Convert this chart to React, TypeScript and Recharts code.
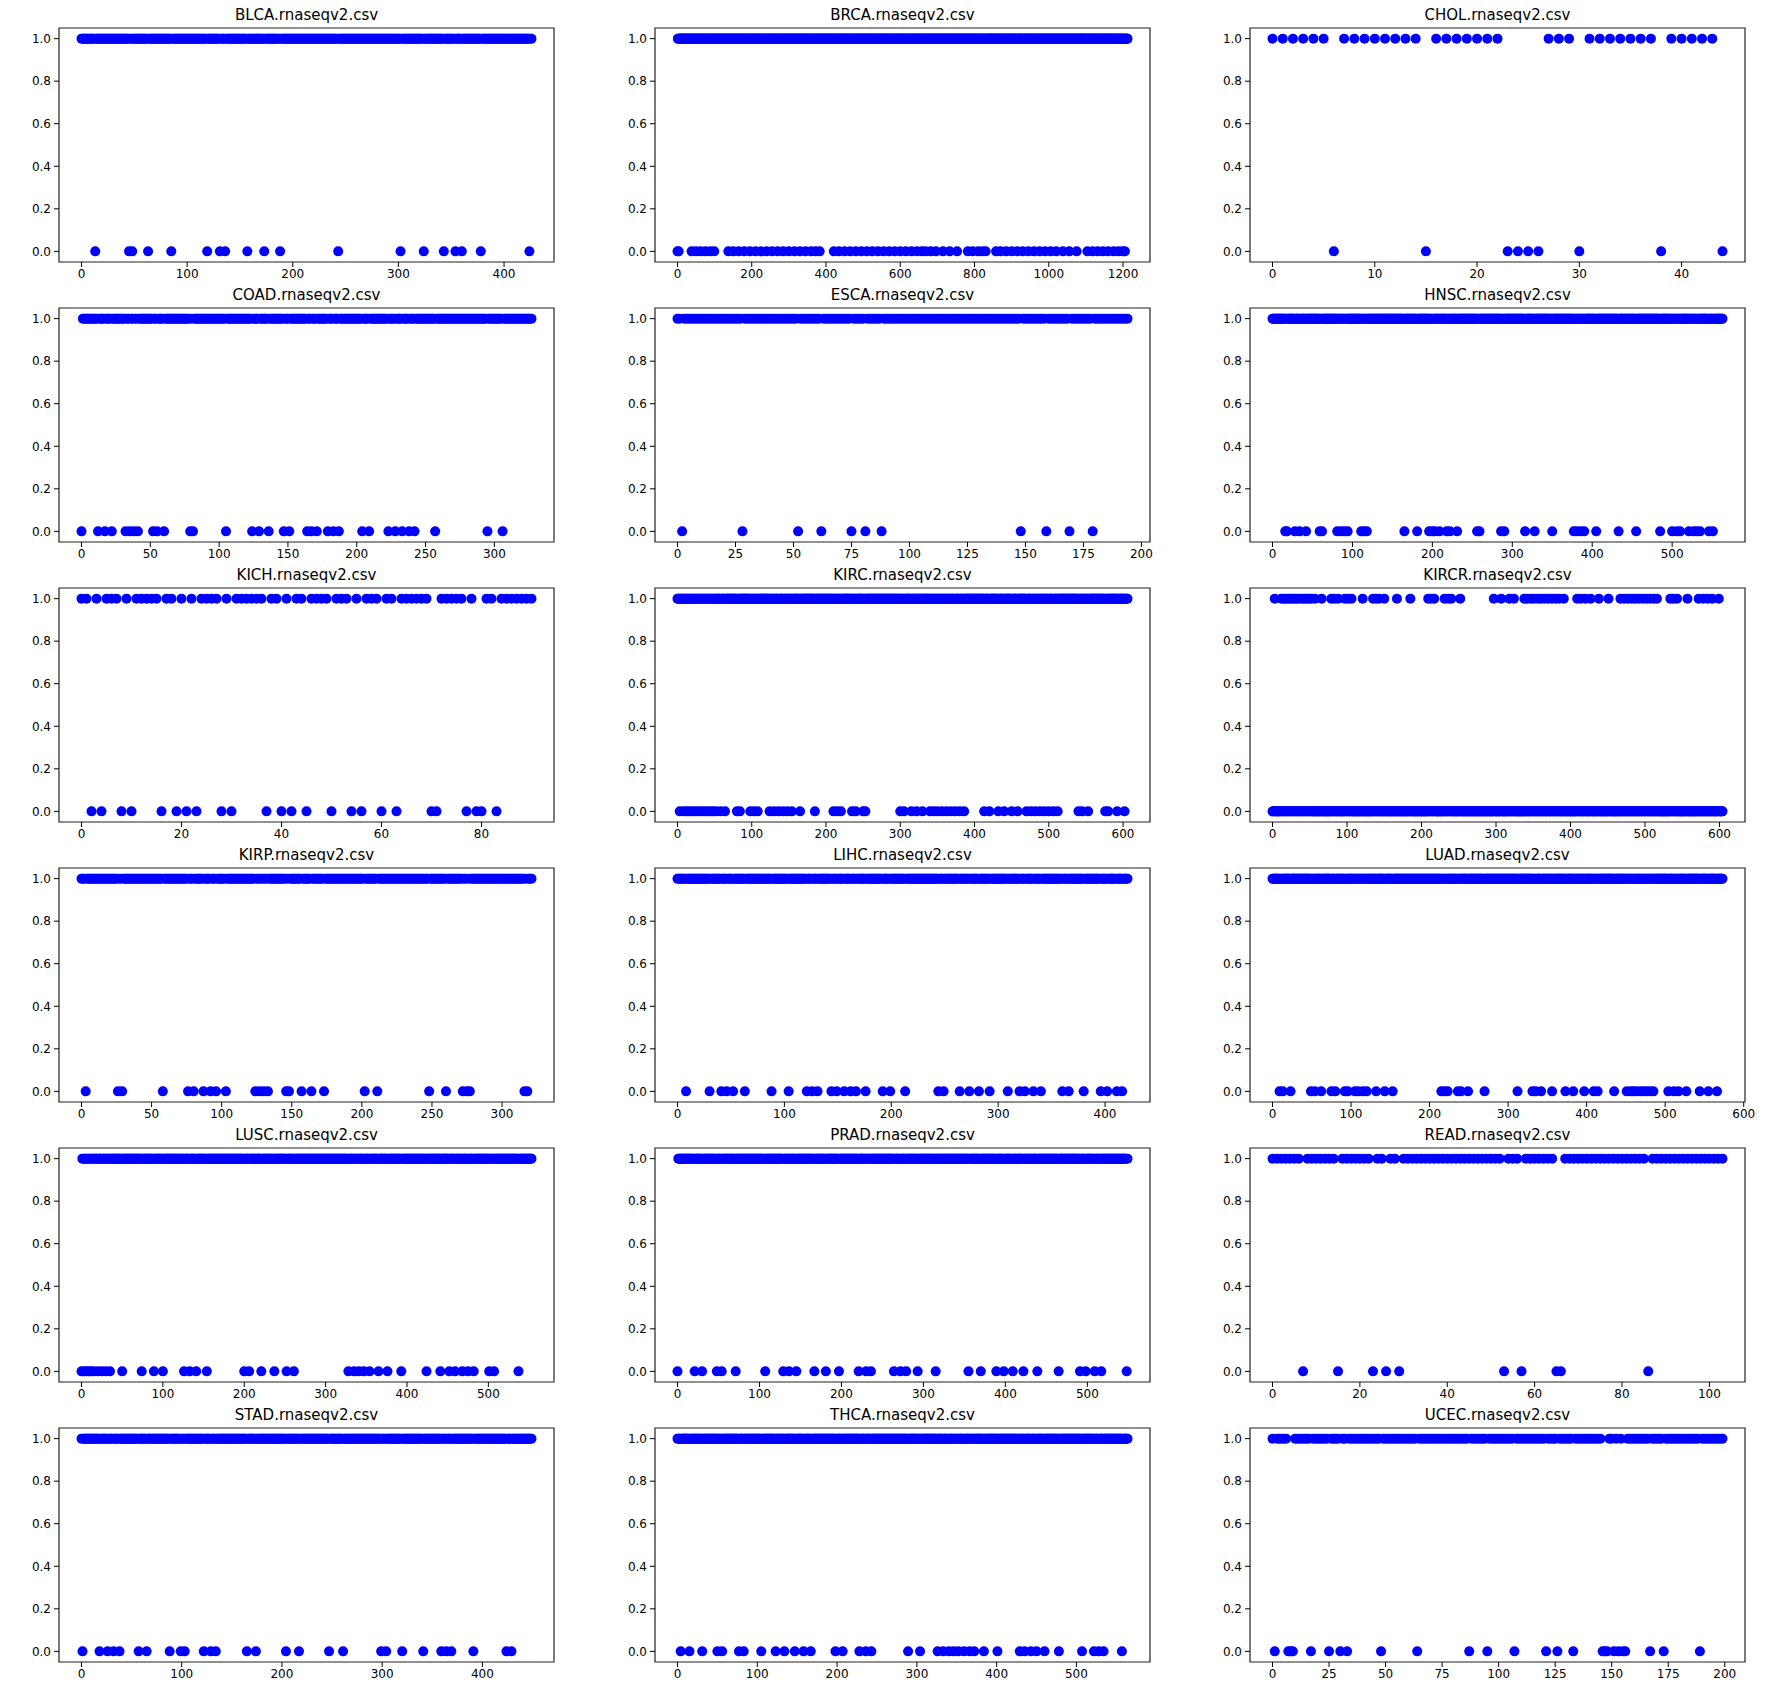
import React from "react";
import { ScatterChart, Scatter, XAxis, YAxis, ReferenceArea } from "recharts";

// panel order: row by row, 3 per row
const TITLES = [
  "BLCA.rnaseqv2.csv", "BRCA.rnaseqv2.csv", "CHOL.rnaseqv2.csv",
  "COAD.rnaseqv2.csv", "ESCA.rnaseqv2.csv", "HNSC.rnaseqv2.csv",
  "KICH.rnaseqv2.csv", "KIRC.rnaseqv2.csv", "KIRCR.rnaseqv2.csv",
  "KIRP.rnaseqv2.csv", "LIHC.rnaseqv2.csv", "LUAD.rnaseqv2.csv",
  "LUSC.rnaseqv2.csv", "PRAD.rnaseqv2.csv", "READ.rnaseqv2.csv",
  "STAD.rnaseqv2.csv", "THCA.rnaseqv2.csv", "UCEC.rnaseqv2.csv",
];

// number of samples in each file
const COUNTS = [427, 1213, 45, 328, 195, 564, 91, 607, 605, 322, 422, 574, 554, 550, 104, 450, 565, 200];

const X_TICKS = [
  [0, 100, 200, 300, 400],
  [0, 200, 400, 600, 800, 1000, 1200],
  [0, 10, 20, 30, 40],
  [0, 50, 100, 150, 200, 250, 300],
  [0, 25, 50, 75, 100, 125, 150, 175, 200],
  [0, 100, 200, 300, 400, 500],
  [0, 20, 40, 60, 80],
  [0, 100, 200, 300, 400, 500, 600],
  [0, 100, 200, 300, 400, 500, 600],
  [0, 50, 100, 150, 200, 250, 300],
  [0, 100, 200, 300, 400],
  [0, 100, 200, 300, 400, 500, 600],
  [0, 100, 200, 300, 400, 500],
  [0, 100, 200, 300, 400, 500],
  [0, 20, 40, 60, 80, 100],
  [0, 100, 200, 300, 400],
  [0, 100, 200, 300, 400, 500],
  [0, 25, 50, 75, 100, 125, 150, 175, 200],
];

const Y_TICKS = [0, 0.2, 0.4, 0.6, 0.8, 1.0];

// sample indices whose value is 0 (all others are 1)
const BLCA_ZEROS = [13, 45, 48, 63, 85, 119, 131, 136, 157, 173, 188, 243, 302, 324, 343, 354, 360, 378, 424];
const BRCA_ZEROS = [
  0, 3, 38, 50, 62, 75, 88, 99, 137, 150, 165, 180, 195, 210, 225, 240, 255, 270, 285, 300, 315, 330, 345,
  360, 372, 383, 421, 435, 450, 465, 480, 495, 510, 525, 540, 555, 570, 585, 600, 615, 630, 645, 658, 668,
  682, 696, 715, 733, 753, 782, 795, 810, 822, 830, 858, 870, 885, 900, 915, 930, 945, 960, 975, 990, 1005,
  1020, 1038, 1055, 1075, 1104, 1118, 1132, 1146, 1160, 1175, 1188, 1199, 1205,
];
const CHOL_ZEROS = [6, 15, 23, 24, 25, 26, 30, 38, 44];
const COAD_ZEROS = [
  0, 12, 17, 22, 32, 35, 38, 41, 52, 55, 60, 79, 81, 105, 124, 129, 136, 147, 151, 164, 167, 171, 179, 183,
  187, 204, 209, 223, 228, 233, 238, 242, 257, 295, 306,
];
const ESCA_ZEROS = [2, 28, 52, 62, 75, 81, 88, 148, 159, 169, 179];
const HNSC_ZEROS = [
  16, 18, 28, 34, 42, 59, 62, 81, 86, 90, 94, 111, 114, 118, 165, 181, 196, 200, 203, 209, 218, 222, 231,
  256, 259, 286, 290, 316, 328, 350, 377, 381, 386, 390, 405, 433, 455, 485, 500, 506, 510, 521, 527, 531,
  535, 546, 551,
];
const KICH_ZEROS = [2, 4, 8, 10, 16, 19, 21, 23, 28, 30, 37, 40, 42, 45, 50, 54, 56, 60, 63, 70, 71, 77, 79, 80, 83];
const KIRC_ZEROS = [
  3, 8, 12, 16, 20, 24, 28, 32, 36, 40, 44, 48, 52, 58, 64, 80, 84, 98, 103, 108, 124, 130, 136, 142, 148,
  154, 165, 185, 210, 215, 220, 235, 240, 250, 253, 300, 305, 315, 322, 330, 340, 345, 350, 356, 362, 368,
  374, 380, 386, 413, 420, 432, 440, 450, 458, 470, 476, 482, 488, 494, 500, 506, 512, 540, 545, 553, 576,
  580, 592, 602,
];
// KIRCR is mostly 0: these are the indices whose value is 1
const KIRCR_ONES = [
  3, 12, 15, 18, 21, 24, 27, 30, 33, 36, 40, 43, 46, 49, 52, 57, 66, 79, 83, 88, 97, 101, 106, 121, 135,
  139, 143, 150, 167, 185, 209, 213, 217, 231, 236, 240, 252, 297, 307, 318, 324, 338, 342, 347, 351, 356,
  360, 365, 370, 375, 380, 385, 391, 409, 414, 420, 427, 438, 451, 467, 472, 477, 482, 487, 492, 497, 502,
  507, 512, 516, 534, 538, 543, 557, 572, 578, 584, 590, 599,
];
const KIRP_ZEROS = [
  3, 26, 29, 58, 76, 80, 87, 92, 96, 103, 124, 127, 130, 133, 146, 148, 157, 164, 173, 202, 211, 248, 260,
  272, 275, 277, 316, 318,
];
const LIHC_ZEROS = [
  8, 30, 41, 46, 52, 63, 88, 104, 121, 126, 131, 144, 149, 156, 162, 167, 176, 192, 199, 213, 244, 249, 264,
  273, 282, 292, 309, 320, 325, 333, 340, 360, 366, 380, 396, 402, 411, 416,
];
const LUAD_ZEROS = [
  9, 13, 23, 49, 54, 62, 75, 80, 92, 96, 105, 109, 115, 120, 132, 143, 153, 215, 219, 223, 236, 240, 249,
  270, 312, 331, 335, 342, 356, 373, 383, 397, 409, 414, 435, 451, 456, 460, 464, 469, 473, 477, 481, 485,
  504, 511, 517, 527, 544, 555, 566,
];
const LUSC_ZEROS = [
  0, 3, 6, 9, 12, 15, 20, 25, 30, 35, 50, 74, 89, 100, 126, 133, 141, 154, 200, 206, 221, 237, 252, 261,
  328, 335, 341, 347, 354, 365, 376, 393, 424, 441, 452, 459, 468, 475, 482, 501, 507, 537,
];
const PRAD_ZEROS = [
  0, 21, 30, 48, 54, 71, 107, 129, 136, 145, 167, 181, 197, 221, 230, 236, 264, 272, 279, 293, 315, 355,
  370, 389, 398, 409, 422, 439, 465, 491, 498, 509, 517, 548,
];
const READ_ZEROS = [7, 15, 23, 26, 29, 53, 57, 65, 66, 86];
const STAD_ZEROS = [
  1, 18, 26, 32, 38, 57, 65, 88, 99, 103, 122, 129, 134, 165, 174, 204, 217, 247, 261, 299, 304, 320, 341,
  359, 364, 369, 391, 424, 429,
];
const THCA_ZEROS = [
  4, 15, 31, 50, 56, 77, 83, 105, 123, 134, 147, 158, 167, 198, 207, 228, 236, 243, 289, 304, 326, 333, 340,
  346, 352, 359, 366, 372, 384, 401, 429, 435, 443, 450, 460, 478, 507, 522, 528, 534, 557,
];
const UCEC_ZEROS = [
  1, 7, 8, 9, 17, 25, 30, 33, 48, 64, 87, 95, 107, 121, 126, 133, 146, 147, 148, 151, 153, 155, 156, 167,
  173, 189,
];

const ZEROS: (number[] | null)[] = [
  BLCA_ZEROS, BRCA_ZEROS, CHOL_ZEROS, COAD_ZEROS, ESCA_ZEROS, HNSC_ZEROS,
  KICH_ZEROS, KIRC_ZEROS, null, KIRP_ZEROS, LIHC_ZEROS, LUAD_ZEROS,
  LUSC_ZEROS, PRAD_ZEROS, READ_ZEROS, STAD_ZEROS, THCA_ZEROS, UCEC_ZEROS,
];

const FONT = "'DejaVu Sans', sans-serif";
const BOX_LEFT = [59, 655, 1250];
const BOX_TOP = 28;
const ROW_STEP = 280;
const BOX_W = 495;
const BOX_H = 234;
const PAD_L = 60;
const PAD_T = 28;
const PAD_R = 10;
const PAD_B = 30;

function buildPoints(i: number) {
  const n = COUNTS[i];
  const zeros = ZEROS[i];
  const pts: { x: number; y: number }[] = [];
  for (let k = 0; k < n; k++) {
    const isZero = zeros ? zeros.includes(k) : !KIRCR_ONES.includes(k);
    pts.push({ x: k, y: isZero ? 0 : 1 });
  }
  return pts;
}

const Dot = (props: any) => <circle cx={props.cx} cy={props.cy} r={5} fill="#0000ff" />;

function Panel({ i }: { i: number }) {
  const col = i % 3;
  const row = Math.floor(i / 3);
  const left = BOX_LEFT[col];
  const top = BOX_TOP + row * ROW_STEP;
  const r = COUNTS[i] - 1;
  const xMin = -0.05 * r;
  const xMax = 1.05 * r;
  const data = buildPoints(i);
  const tick = { fontSize: 12, fill: "#000", fontFamily: FONT };
  return (
    <>
      <div
        style={{
          position: "absolute", left, top: top - 23, width: BOX_W, textAlign: "center",
          fontFamily: FONT, fontSize: 15, lineHeight: "20px", color: "#000",
        }}
      >
        {TITLES[i]}
      </div>
      <div style={{ position: "absolute", left: left - PAD_L, top: top - PAD_T }}>
        <ScatterChart
          width={BOX_W + PAD_L + PAD_R}
          height={BOX_H + PAD_T + PAD_B}
          margin={{ top: PAD_T, right: PAD_R, bottom: 0, left: 0 }}
        >
          <XAxis
            type="number"
            dataKey="x"
            domain={[xMin, xMax]}
            ticks={X_TICKS[i]}
            interval={0}
            allowDataOverflow
            height={PAD_B}
            tick={tick}
            tickSize={5}
            tickMargin={2}
            axisLine={false}
            tickLine={{ stroke: "#000" }}
          />
          <YAxis
            type="number"
            dataKey="y"
            domain={[-0.05, 1.05]}
            ticks={Y_TICKS}
            interval={0}
            allowDataOverflow
            width={PAD_L}
            tick={tick}
            tickSize={5}
            tickMargin={3}
            tickFormatter={(v: number) => v.toFixed(1)}
            axisLine={false}
            tickLine={{ stroke: "#000" }}
          />
          <Scatter data={data} shape={Dot} isAnimationActive={false} />
          <ReferenceArea
            x1={xMin}
            x2={xMax}
            y1={-0.05}
            y2={1.05}
            fill="none"
            stroke="#222"
            strokeWidth={1.2}
            ifOverflow="visible"
          />
        </ScatterChart>
      </div>
    </>
  );
}

export default function App() {
  return (
    <div
      style={{
        position: "absolute", left: 0, top: 0, width: 1777, height: 1701,
        background: "#fff", overflow: "hidden",
      }}
    >
      {TITLES.map((_, i) => (
        <Panel key={i} i={i} />
      ))}
    </div>
  );
}
